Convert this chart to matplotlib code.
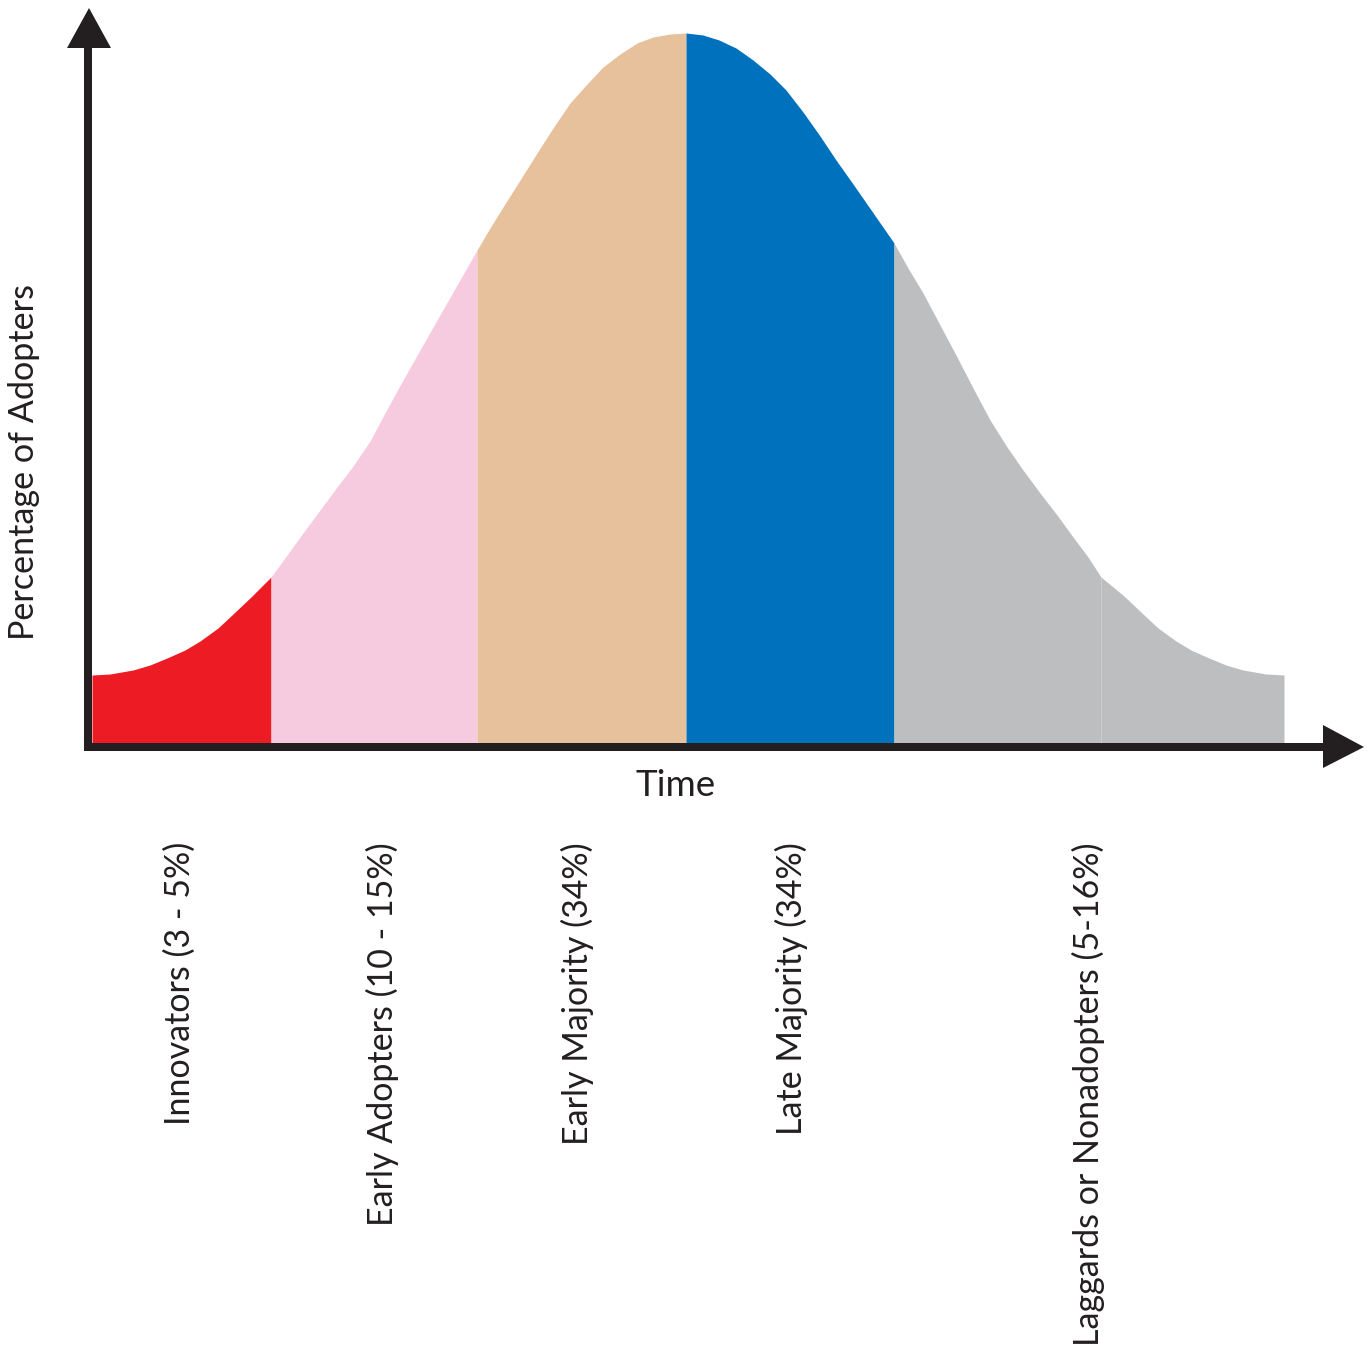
import numpy as np
import matplotlib
matplotlib.use("Agg")
import matplotlib.pyplot as plt
from matplotlib.patches import Polygon

# ---- data (time in arbitrary units, share of adopters in arbitrary units) ----
time = [0.04, 0.22, 0.45, 0.62, 0.79, 0.97, 1.12, 1.30, 1.45, 1.64, 1.83,
        1.99, 2.15, 2.32, 2.49, 2.65, 2.82, 2.98, 3.15, 3.32, 3.49, 3.69, 3.89,
        4.02, 4.15, 4.32, 4.49, 4.65, 4.82, 4.99, 5.15, 5.32, 5.49, 5.65, 5.82, 5.98,
        6.15, 6.31, 6.48, 6.65, 6.82, 6.98, 7.15, 7.32, 7.48, 7.65, 7.81, 8.06,
        8.20, 8.35, 8.52, 8.69, 8.85, 9.02, 9.19, 9.35, 9.52, 9.69, 9.85, 10.00, 10.13,
        10.36, 10.55, 10.70, 10.88, 11.03, 11.21, 11.38, 11.55, 11.78, 11.96]
adopters = [0.72, 0.73, 0.77, 0.82, 0.89, 0.97, 1.06, 1.19, 1.33, 1.51, 1.70,
            1.92, 2.14, 2.37, 2.60, 2.81, 3.06, 3.36, 3.67, 3.97, 4.27, 4.62, 4.97,
            5.19, 5.40, 5.67, 5.94, 6.19, 6.44, 6.63, 6.80, 6.93, 7.04, 7.10, 7.13, 7.14,
            7.12, 7.07, 6.99, 6.87, 6.73, 6.57, 6.35, 6.11, 5.87, 5.63, 5.40, 5.04,
            4.79, 4.54, 4.22, 3.90, 3.59, 3.27, 3.00, 2.77, 2.54, 2.32, 2.10, 1.90, 1.70,
            1.51, 1.33, 1.19, 1.06, 0.97, 0.89, 0.82, 0.77, 0.73, 0.72]
boundaries = [0.04, 1.83, 3.89, 5.98, 8.06, 10.13, 11.96]
segment_colors = ["#ED1C24", "#F7CBDF", "#E6C19C", "#0071BC", "#BCBEC0", "#BCBEC0"]
category_labels = ["Innovators (3 - 5%)", "Early Adopters (10 - 15%)",
                   "Early Majority (34%)", "Late Majority (34%)",
                   "Laggards or Nonadopters (5-16%)"]
label_positions = [0.92, 2.94, 4.89, 7.03, 10.00]

t = np.array(time)
a = np.array(adopters)

fig = plt.figure(figsize=(13.67, 13.61), dpi=100)
ax = fig.add_axes([0, 0, 1, 1])
ax.set_xlim(-0.88, 12.79)
ax.set_ylim(-6.14, 7.47)
ax.axis("off")

FONT = ["Lato", "DejaVu Sans"]
ink = "#231F20"

for i, col in enumerate(segment_colors):
    lo, hi = boundaries[i], boundaries[i + 1]
    m = (t >= lo - 1e-9) & (t <= hi + 1e-9)
    ax.fill_between(t[m], 0, a[m], color=col, linewidth=0, zorder=2)

# axes with arrows
lw = 8 * 72 / 100
ax.plot([0, 0], [-0.04, 7.0], color=ink, lw=lw, solid_capstyle="butt", zorder=5)
ax.plot([-0.045, 12.36], [0, 0], color=ink, lw=lw, solid_capstyle="butt", zorder=5)
ax.add_patch(Polygon([[-0.21, 6.99], [0.23, 6.99], [0.01, 7.39]], closed=True,
                     color=ink, lw=0, zorder=6))
ax.add_patch(Polygon([[12.35, 0.22], [12.35, -0.21], [12.76, 0.0]], closed=True,
                     color=ink, lw=0, zorder=6))

ax.text(5.88, -0.38, "Time", ha="center", va="center", fontsize=26.5,
        family=FONT, color=ink)
ax.text(-0.64, 2.85, "Percentage of Adopters", ha="center", va="center",
        rotation=90, fontsize=24.6, family=FONT, color=ink)

for x, lab in zip(label_positions, category_labels):
    ax.text(x, -0.95, lab, ha="center", va="top", rotation=90, fontsize=24.5,
            family=FONT, color=ink)

fig.savefig("out.png", dpi=100, facecolor="white")
